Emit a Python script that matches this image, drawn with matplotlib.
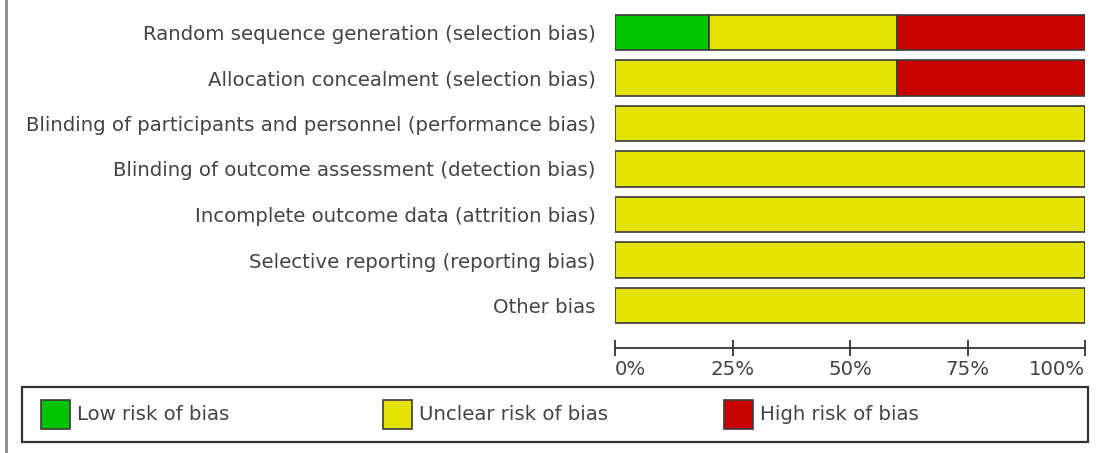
import numpy as np
import matplotlib
matplotlib.use('Agg')
import matplotlib.pyplot as plt
from matplotlib.patches import Rectangle
from matplotlib.lines import Line2D

###############################################################################
# data:

domains = ['Random sequence generation (selection bias)',
           'Allocation concealment (selection bias)',
           'Blinding of participants and personnel (performance bias)',
           'Blinding of outcome assessment (detection bias)',
           'Incomplete outcome data (attrition bias)',
           'Selective reporting (reporting bias)',
           'Other bias']
low = [20, 0, 0, 0, 0, 0, 0]
unclear = [40, 60, 100, 100, 100, 100, 100]
high = [40, 40, 0, 0, 0, 0, 0]

tick_vals = [0, 25, 50, 75, 100]
tick_labels = ['0%', '25%', '50%', '75%', '100%']
legend_labels = ['Low risk of bias', 'Unclear risk of bias', 'High risk of bias']

###############################################################################
# setup:

W, H = 1097, 453
green, yellow, red = '#00c400', '#e3e300', '#c80000'
edge = '#3a3a3a'
txt = '#444444'
fs = 14.2
plt.rcParams['font.family'] = 'DejaVu Sans'

fig = plt.figure(figsize=(W / 100, H / 100), dpi=100)

def fx(px):
    return px / W

def fy(py):
    return 1 - py / H

# axes: x from 615 to 1085 px, y from 10 to 348 px
ax = fig.add_axes([fx(615), fy(348), fx(1085) - fx(615), fy(10) - fy(348)])

y0, pitch = 32.5, 45.5
y = np.arange(len(domains))
ax.barh(y, low, height=0.77, color=green, edgecolor=edge, lw=1.2)
ax.barh(y, unclear, left=low, height=0.77, color=yellow, edgecolor=edge, lw=1.2)
ax.barh(y, high, left=np.add(low, unclear), height=0.77, color=red, edgecolor=edge, lw=1.2)

ax.set_xlim(0, 100)
ax.set_ylim((348 - y0) / pitch, -(y0 - 10) / pitch)

ax.set_yticks(y)
ax.set_yticklabels(domains, fontsize=fs, color=txt)
ax.tick_params(axis='y', length=0, pad=14)

ax.set_xticks(tick_vals)
ax.set_xticklabels(tick_labels, fontsize=fs, color=txt)
for lab, ha in zip(ax.get_xticklabels(), ['left', 'center', 'center', 'center', 'right']):
    lab.set_horizontalalignment(ha)
ax.tick_params(axis='x', direction='inout', length=11, width=1.3, color='#333333', pad=3)

for s in ['top', 'right', 'left']:
    ax.spines[s].set_visible(False)
ax.spines['bottom'].set_color('#333333')
ax.spines['bottom'].set_linewidth(1.3)

###############################################################################
# legend box:

fig.patches.append(Rectangle((fx(22), fy(442)), fx(1088) - fx(22), fy(387) - fy(442),
                             transform=fig.transFigure, fill=False, ec='#333333', lw=1.6))
for x0, c, lab in zip([41, 383, 724], [green, yellow, red], legend_labels):
    fig.patches.append(Rectangle((fx(x0), fy(429)), fx(29), fy(400) - fy(429),
                                 transform=fig.transFigure, fc=c, ec=edge, lw=1.2))
    fig.text(fx(x0 + 36), fy(414.5), lab, fontsize=fs, color=txt, va='center', ha='left')

# left frame line
fig.lines.append(Line2D([fx(5.5), fx(5.5)], [0, 1], transform=fig.transFigure,
                        color='#8a8a8a', lw=2))

plt.savefig('out.png', dpi=100)
